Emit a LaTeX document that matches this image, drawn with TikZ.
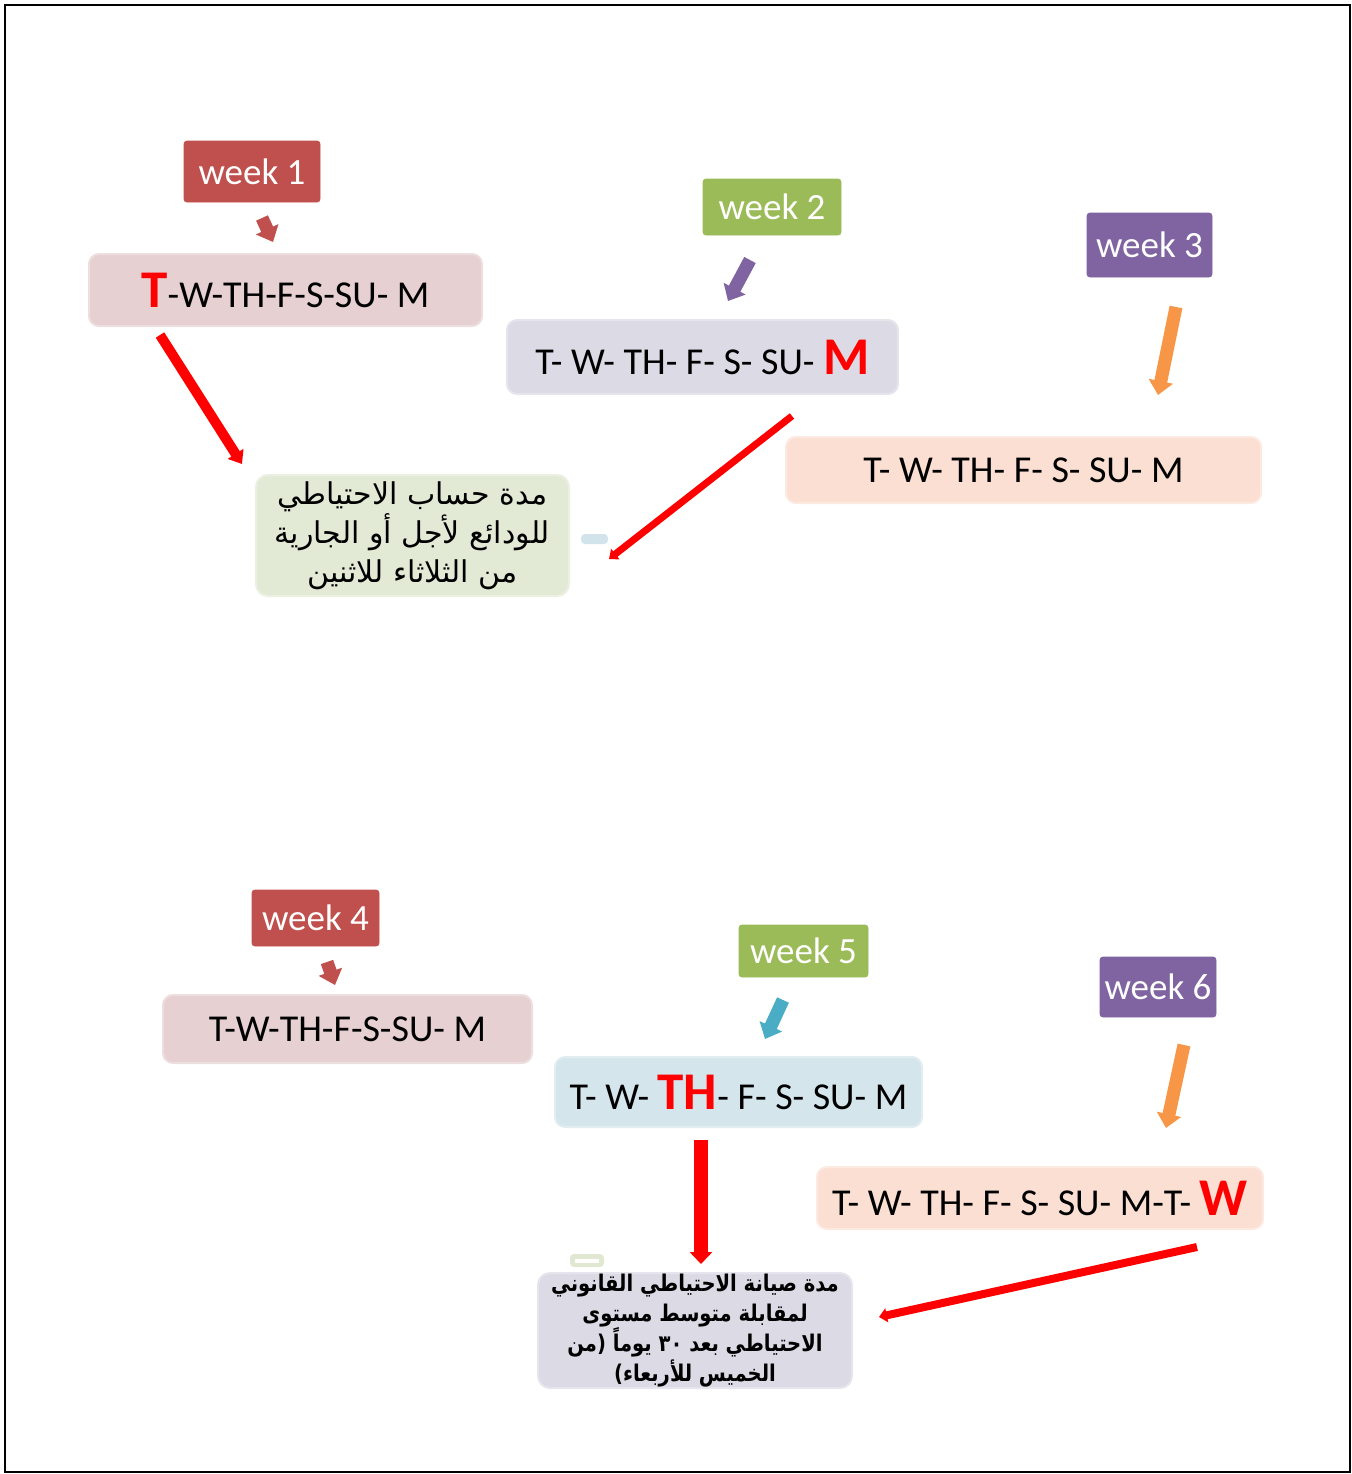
\documentclass[tikz,border=0pt]{standalone}
\usepackage{fontspec}
\setmainfont{Carlito}
\newfontfamily\arabicfont[Script=Arabic]{DejaVu Sans}
\newfontfamily\arabicnarrow[Script=Arabic,FakeStretch=0.85]{DejaVu Sans}
\TeXXeTstate=1
\usetikzlibrary{arrows.meta}
\definecolor{wred}{HTML}{C0504D}
\definecolor{wgreen}{HTML}{9BBB59}
\definecolor{wpurple}{HTML}{8064A2}
\definecolor{wcyan}{HTML}{4BACC6}
\definecolor{worange}{HTML}{F79646}
\definecolor{bpink}{HTML}{E6D0D1}
\definecolor{blav}{HTML}{DCDAE5}
\definecolor{bpeach}{HTML}{FBDFD3}
\definecolor{bgreen}{HTML}{E2EAD6}
\definecolor{bblue}{HTML}{D5E5EC}
\definecolor{sblue}{HTML}{D3E3EB}
\definecolor{sgreen}{HTML}{E0E8D2}
\definecolor{hired}{HTML}{FF0000}
\tikzset{
  weekbox/.style={fill=#1, draw=#1, rounded corners=1.5pt, text=white, inner sep=0pt,
    font=\fontsize{18.5}{20}\selectfont},
  daybox/.style={fill=#1, draw=#1!70!white, line width=1pt, rounded corners=5pt, inner sep=0pt,
    font=\fontsize{19}{21}\selectfont},
  arbox/.style={fill=#1, draw=#1!70!white, line width=1pt, rounded corners=6pt, inner sep=0pt, align=center},
  blockarrow/.style={draw=#1, line width=6.5pt, -{Triangle[width=12pt,length=7pt]}},
  redarrow/.style={draw=hired, line width=#1},
}
\newcommand{\bigred}[1]{{\color{hired}\fontsize{26.5}{26}\selectfont\bfseries #1}}
\begin{document}
\begin{tikzpicture}[x=0.5pt,y=-0.5pt]
\useasboundingbox (0,0) rectangle (1352,1474);
\draw[line width=1pt] (5,5) rectangle (1350,1472);

% top half
\node[weekbox=wred, minimum width=68pt, minimum height=30.5pt] (w1) at (252,171.5) {week 1};
\node[weekbox=wgreen, minimum width=69pt, minimum height=28pt] (w2) at (772,207) {week 2};
\node[weekbox=wpurple, minimum width=62.5pt, minimum height=32pt] (w3) at (1149.5,245) {week 3};

\node[daybox=bpink, minimum width=196.5pt, minimum height=36pt] (d1) at (285.5,290)
  {\bigred{T}-W-TH-F-S-SU- M};
\node[daybox=blav, minimum width=195.5pt, minimum height=37pt] (d2) at (702.5,357)
  {T- W- TH- F- S- SU- \bigred{M}};
\node[daybox=bpeach, minimum width=237.5pt, minimum height=33pt] (d3) at (1023.5,470)
  {T- W- TH- F- S- SU- M};

\node[arbox=bgreen, minimum width=156.5pt, minimum height=60.5pt,
  font=\arabicfont\fontsize{15}{19.5}\selectfont] (g1) at (412.5,535.5)
  {\beginR مدة حساب الاحتياطي\endR\\\beginR للودائع لأجل أو الجارية\endR\\\beginR من الثلاثاء للاثنين\endR};
\node[fill=sblue, rounded corners=2pt, minimum width=13.5pt, minimum height=5pt, inner sep=0pt] (s1) at (594.5,539) {};

\coordinate (a1s) at (262,218); \coordinate (a1e) at (273,242);
\coordinate (a2s) at (750,260); \coordinate (a2e) at (728,301);
\coordinate (a3s) at (1176,307); \coordinate (a3e) at (1158,395);
\draw[blockarrow=wred] (a1s) -- (a1e);
\draw[blockarrow=wpurple] (a2s) -- (a2e);
\draw[blockarrow=worange] (a3s) -- (a3e);

\coordinate (r1s) at (160,335); \coordinate (r1e) at (242,464);
\coordinate (r2s) at (792,416); \coordinate (r2e) at (609,559);
\draw[redarrow=5pt, -{Triangle[width=9pt,length=6pt]}] (r1s) -- (r1e);
\draw[redarrow=3.5pt, -{Triangle[width=6.5pt,length=4pt]}] (r2s) -- (r2e);

% bottom half
\node[weekbox=wred, minimum width=63.5pt, minimum height=28pt] (w4) at (315.5,918) {week 4};
\node[weekbox=wgreen, minimum width=64.5pt, minimum height=26pt] (w5) at (803.5,951) {week 5};
\node[weekbox=wpurple, minimum width=58pt, minimum height=30pt] (w6) at (1158,987) {week 6};

\node[daybox=bpink, minimum width=184.5pt, minimum height=34pt] (d4) at (347.5,1029)
  {T-W-TH-F-S-SU- M};
\node[daybox=bblue, minimum width=183.5pt, minimum height=35pt] (d5) at (738.5,1092)
  {T- W- \bigred{TH}- F- S- SU- M};
\node[daybox=bpeach, minimum width=223pt, minimum height=31pt] (d6) at (1040,1198)
  {T- W- TH- F- S- SU- M-T- \bigred{W}};

\node[arbox=blav, minimum width=157pt, minimum height=57.5pt,
  font=\arabicnarrow\bfseries\fontsize{11.5}{15}\selectfont] (g2) at (695,1330.5)
  {\beginR مدة صيانة الاحتياطي القانوني\endR\\\beginR لمقابلة متوسط مستوى\endR\\\beginR الاحتياطي بعد ٣٠ يوماً (من\endR\\\beginR الخميس للأربعاء)\endR};
\node[fill=sgreen, rounded corners=2pt, minimum width=17pt, minimum height=6.5pt, inner sep=0pt] (s2) at (587,1260.5) {};
\node[fill=white, minimum width=12pt, minimum height=2pt, inner sep=0pt] (s2i) at (s2.center) {};

\coordinate (a4s) at (327,962); \coordinate (a4e) at (335,985);
\coordinate (a5s) at (783,1000); \coordinate (a5e) at (765,1039);
\coordinate (a6s) at (1184,1045); \coordinate (a6e) at (1166,1128);
\draw[blockarrow=wred] (a4s) -- (a4e);
\draw[blockarrow=wcyan] (a5s) -- (a5e);
\draw[blockarrow=worange] (a6s) -- (a6e);

\coordinate (r3s) at (701,1140); \coordinate (r3e) at (701,1264);
\coordinate (r4s) at (1197,1247); \coordinate (r4e) at (879,1317);
\draw[redarrow=7pt, -{Triangle[width=11pt,length=6pt]}] (r3s) -- (r3e);
\draw[redarrow=4pt, -{Triangle[width=7pt,length=4pt]}] (r4s) -- (r4e);
\end{tikzpicture}
\end{document}
